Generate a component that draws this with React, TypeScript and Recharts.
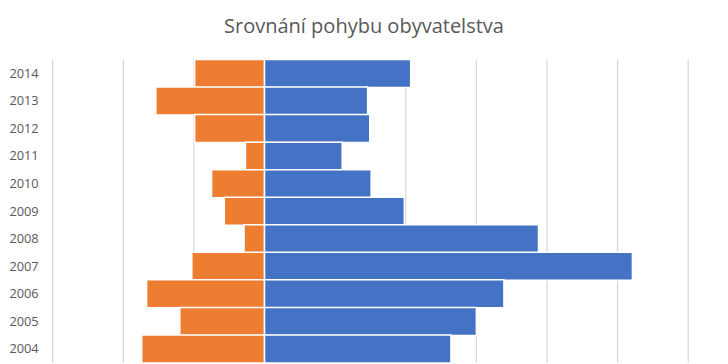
import { BarChart, Bar, XAxis, YAxis, CartesianGrid } from 'recharts';

const years = ['2014', '2013', '2012', '2011', '2010', '2009', '2008', '2007', '2006', '2005', '2004'];
const positive = [2.07, 1.46, 1.49, 1.1, 1.51, 1.98, 3.88, 5.21, 3.39, 3.0, 2.64];
const negative = [-0.99, -1.54, -0.99, -0.27, -0.75, -0.57, -0.29, -1.03, -1.67, -1.2, -1.74];
const xTicks = [-3, -2, -1, 0, 1, 2, 3, 4, 5, 6];

const data = years.map((year, i) => ({
  year,
  plus: positive[i],
  minus: negative[i],
}));

const textColor = '#595959';
const font = '"Open Sans", sans-serif';

export default function App() {
  return (
    <div style={{ position: 'absolute', left: 0, top: 0, width: 728, height: 364, background: '#fff', overflow: 'hidden' }}>
      <div
        style={{
          position: 'absolute',
          top: 11.5,
          width: 728,
          textAlign: 'center',
          fontFamily: font,
          fontSize: 20,
          color: textColor,
        }}
      >
        Srovnání pohybu obyvatelstva
      </div>
      <BarChart
        width={728}
        height={364}
        data={data}
        layout="vertical"
        stackOffset="sign"
        barCategoryGap={0}
        margin={{ top: 59.5, right: 39.8, left: 0, bottom: 1.5 }}
      >
        <CartesianGrid horizontal={false} stroke="#d9d9d9" strokeWidth={1.3} />
        <XAxis type="number" domain={[-3, 6]} ticks={xTicks} hide />
        <YAxis
          type="category"
          dataKey="year"
          width={52.7}
          axisLine={false}
          tickLine={false}
          tickSize={0}
          tickMargin={14}
          tick={{ fill: textColor, fontSize: 12.8, fontFamily: font }}
        />
        <Bar dataKey="minus" stackId="a" fill="#ED7D31" stroke="#fff" strokeWidth={1.5} isAnimationActive={false} />
        <Bar dataKey="plus" stackId="a" fill="#4472C4" stroke="#fff" strokeWidth={1.5} isAnimationActive={false} />
      </BarChart>
    </div>
  );
}
